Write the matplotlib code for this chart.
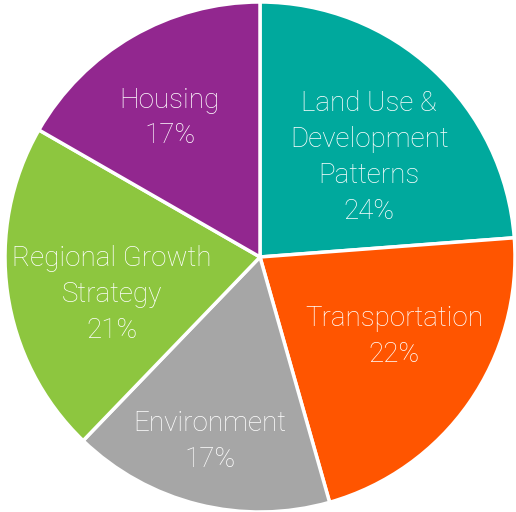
import numpy as np
import matplotlib.pyplot as plt

categories = ["Land Use &\nDevelopment\nPatterns", "Transportation", "Environment",
              "Regional Growth\nStrategy", "Housing"]
shares = [23.8, 21.8, 16.6, 21.1, 16.7]
colors = ["#00A99D", "#FF5500", "#A6A6A6", "#8DC63F", "#92278F"]
# label placement: radius fraction and angle nudge (deg) from wedge middle
label_r = [0.58, 0.61, 0.75, 0.60, 0.65]
label_da = [-4.8, 4.3, -1.1, 6.1, 2.9]

plt.rcParams['font.family'] = ['Roboto', 'DejaVu Sans']

fig = plt.figure(figsize=(5.16, 5.12), dpi=100)
ax = fig.add_axes([5 / 516, 0.0, 510 / 516, 510 / 512])

wedges, _ = ax.pie(shares, colors=colors, startangle=90, counterclock=False,
                   radius=1.0, wedgeprops=dict(edgecolor="white", linewidth=2.5))

total = sum(shares)
for w, name, val, r, da in zip(wedges, categories, shares, label_r, label_da):
    ang = np.deg2rad((w.theta1 + w.theta2) / 2 + da)
    x, y = r * np.cos(ang), r * np.sin(ang)
    ax.text(x, y, f"{name}\n{round(val / total * 100)}%", ha="center", va="center",
            color="white", fontsize=20, fontweight="light", linespacing=1.42)

ax.set_xlim(-1, 1)
ax.set_ylim(-1, 1)
ax.set_aspect("equal")
ax.axis("off")

fig.savefig("out.png", dpi=100)
